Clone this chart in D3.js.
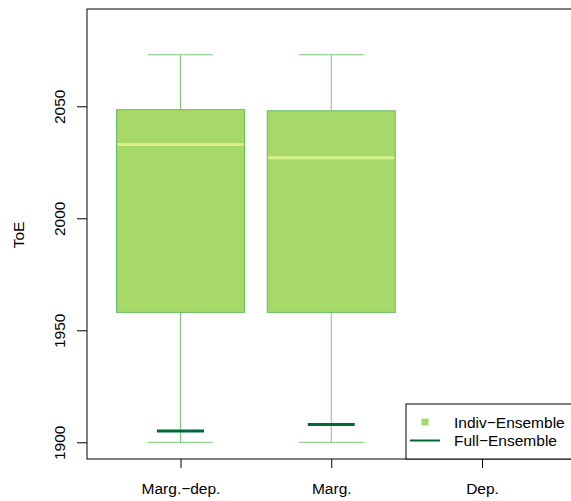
<!DOCTYPE html>
<html>
<head>
<meta charset="utf-8">
<script src="https://cdn.jsdelivr.net/npm/d3@7"></script>
<style>
  html, body { margin: 0; padding: 0; background: #fff; }
  svg { display: block; font-family: "Liberation Sans", Arial, Helvetica, sans-serif; }
</style>
</head>
<body>
<svg id="chart" width="571" height="501"></svg>
<script>
// Time of Emergence per method: individual-ensemble box summaries and full-ensemble value
const categories = ["Marg.\u2212dep.", "Marg.", "Dep."];
const whiskerLow = [1900, 1900, null];
const boxLow = [1958, 1958, null];
const medians = [2033, 2027, null];
const boxHigh = [2048.5, 2048, null];
const whiskerHigh = [2073, 2073, null];
const fullEnsemble = [1905, 1908, null];
const yTicks = [1900, 1950, 2000, 2050];
const legendLabels = ["Indiv\u2212Ensemble", "Full\u2212Ensemble"];

const colFill = "#a6d96a";
const colBorder = "#66bd63";
const colMedian = "#d9ef8b";
const colFull = "#006837";
const fontSize = 15.5;

const svg = d3.select("#chart");
const plot = { left: 87, top: 9, right: 620, bottom: 459 };

const y = d3.scaleLinear().domain([1900, 2050]).range([442.3, 106.3]);
const x = d3.scalePoint().domain(categories).range([180.5, 482]);
const boxHalf = 64;
const capHalf = 32.5;
const fullHalf = 23.5;

const data = categories.map((c, i) => ({
  cat: c, wl: whiskerLow[i], q1: boxLow[i], med: medians[i], q3: boxHigh[i],
  wh: whiskerHigh[i], full: fullEnsemble[i]
})).filter(d => d.med !== null);

const g = svg.append("g");

// whiskers and caps
data.forEach(d => {
  const cx = x(d.cat);
  const wg = g.append("g").attr("stroke", colBorder).attr("stroke-width", 1).attr("opacity", 0.85);
  wg.append("line").attr("x1", cx).attr("x2", cx).attr("y1", y(d.wh)).attr("y2", y(d.q3));
  wg.append("line").attr("x1", cx).attr("x2", cx).attr("y1", y(d.q1)).attr("y2", y(d.wl));
  wg.append("line").attr("x1", cx - capHalf).attr("x2", cx + capHalf).attr("y1", y(d.wh)).attr("y2", y(d.wh));
  wg.append("line").attr("x1", cx - capHalf).attr("x2", cx + capHalf).attr("y1", y(d.wl)).attr("y2", y(d.wl));
});

// boxes
g.selectAll("rect.box").data(data).join("rect")
  .attr("class", "box")
  .attr("x", d => x(d.cat) - boxHalf)
  .attr("width", boxHalf * 2)
  .attr("y", d => y(d.q3))
  .attr("height", d => y(d.q1) - y(d.q3))
  .attr("fill", colFill)
  .attr("stroke", colBorder)
  .attr("stroke-width", 1);

// medians
g.selectAll("line.med").data(data).join("line")
  .attr("class", "med")
  .attr("x1", d => x(d.cat) - boxHalf + 1)
  .attr("x2", d => x(d.cat) + boxHalf - 1)
  .attr("y1", d => y(d.med)).attr("y2", d => y(d.med))
  .attr("stroke", colMedian).attr("stroke-width", 3);

// full-ensemble values
g.selectAll("line.full").data(data).join("line")
  .attr("class", "full")
  .attr("x1", d => x(d.cat) - fullHalf)
  .attr("x2", d => x(d.cat) + fullHalf)
  .attr("y1", d => y(d.full)).attr("y2", d => y(d.full))
  .attr("stroke", colFull).attr("stroke-width", 3);

// frame
svg.append("rect")
  .attr("x", plot.left).attr("y", plot.top)
  .attr("width", plot.right - plot.left).attr("height", plot.bottom - plot.top)
  .attr("fill", "none").attr("stroke", "#000").attr("stroke-width", 1);

// y axis with rotated labels
const yAxis = svg.append("g").attr("transform", `translate(${plot.left},0)`)
  .call(d3.axisLeft(y).tickValues(yTicks).tickSize(10).tickPadding(0).tickFormat(d3.format("d")));
yAxis.select(".domain").remove();
yAxis.selectAll("line").attr("stroke", "#000");
yAxis.selectAll("text")
  .attr("font-size", fontSize).attr("fill", "#000")
  .attr("text-anchor", "middle")
  .attr("x", 0).attr("y", 0).attr("dy", null)
  .attr("transform", "translate(-22.5,0) rotate(-90)");

// x axis
const xAxis = svg.append("g").attr("transform", `translate(0,${plot.bottom})`)
  .call(d3.axisBottom(x).tickSize(9).tickPadding(14));
xAxis.select(".domain").remove();
xAxis.selectAll("line").attr("stroke", "#000");
xAxis.selectAll("text").attr("font-size", fontSize).attr("fill", "#000")
  .attr("y", 35).attr("dy", null);

// y title
svg.append("text")
  .attr("transform", "translate(24,235) rotate(-90)")
  .attr("text-anchor", "middle")
  .attr("font-size", fontSize)
  .text("ToE");

// legend
const lg = svg.append("g");
lg.append("rect").attr("x", 406).attr("y", 404).attr("width", 200).attr("height", 55)
  .attr("fill", "#fff").attr("stroke", "#000").attr("stroke-width", 1);
lg.append("rect").attr("x", 421.5).attr("y", 418.5).attr("width", 7).attr("height", 7).attr("fill", colFill);
lg.append("line").attr("x1", 410).attr("x2", 440).attr("y1", 440.5).attr("y2", 440.5)
  .attr("stroke", colFull).attr("stroke-width", 2);
lg.selectAll("text.lab").data(legendLabels).join("text")
  .attr("class", "lab")
  .attr("x", 454).attr("y", (d, i) => 428 + i * 18)
  .attr("font-size", fontSize)
  .text(d => d);
</script>
</body>
</html>
